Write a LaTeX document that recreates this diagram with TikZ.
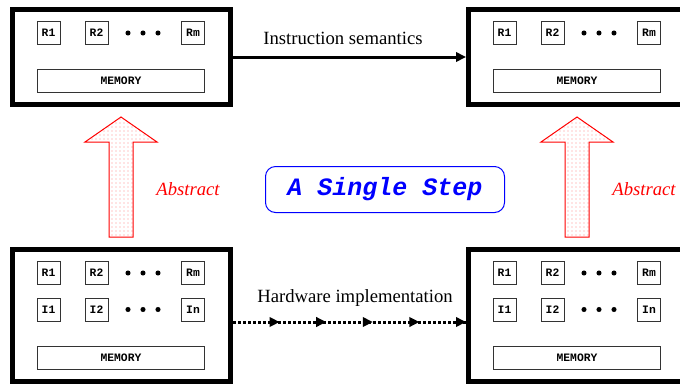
\documentclass[tikz,border=0pt]{standalone}
\usepackage{fontspec}
\setmainfont{Liberation Serif}
\setmonofont{Liberation Mono}
\usetikzlibrary{arrows.meta,patterns,decorations.markings}

\tikzset{every picture/.style={line width=0.75pt}}
\tikzset{
  machine/.style={draw, line width=3.75pt, minimum width=163.5pt, inner sep=0pt},
  reg/.style={draw=black!80, line width=0.75pt, minimum width=17.25pt, minimum height=17.25pt, inner sep=0pt, font=\fontsize{8.5}{9}\ttfamily\bfseries},
  mem/.style={reg, minimum width=125.25pt},
  lbl/.style={inner sep=0.75pt, font=\fontsize{14}{16}\selectfont},
  absarrow/.style={draw=red, line width=0.75pt, pattern=dots, pattern color=red!45},
  hwtip/.style={decoration={markings,
      mark=between positions 0.2 and 0.8 step 0.2 with {\arrow[solid]{Triangle[length=7.5pt,width=7pt]}},
      mark=at position 1 with {\arrow[solid]{Triangle[length=7.5pt,width=7pt]}}},
    postaction={decorate}},
}

\begin{document}
\begin{tikzpicture}[x=0.75pt,y=0.75pt,yscale=-1,xscale=1]
\useasboundingbox (0,0) rectangle (680,383);

% Machine boxes
\node (absL) at (121.5,57) [machine, minimum height=71.25pt] {};
\node (absR) at (577.5,57) [machine, minimum height=71.25pt] {};
\node (impL) at (121.5,315.5) [machine, minimum height=99pt] {};
\node (impR) at (577.5,315.5) [machine, minimum height=99pt] {};

% Registers, top left
\node (absLr1) at (48.5,33) [reg] {R1};
\node (absLr2) at (96.5,33) [reg] {R2};
\node (absLrm) at (193,33) [reg] {Rm};
\node (absLmem) at (121,81) [mem] {MEMORY};
% Registers, top right
\node (absRr1) at (504.5,33) [reg] {R1};
\node (absRr2) at (552.5,33) [reg] {R2};
\node (absRrm) at (649,33) [reg] {Rm};
\node (absRmem) at (577,81) [mem] {MEMORY};
% Registers, bottom left
\node (impLr1) at (48.5,273) [reg] {R1};
\node (impLr2) at (96.5,273) [reg] {R2};
\node (impLrm) at (193,273) [reg] {Rm};
\node (impLi1) at (48.5,309.5) [reg] {I1};
\node (impLi2) at (96.5,309.5) [reg] {I2};
\node (impLin) at (193,309.5) [reg] {In};
\node (impLmem) at (121,357.5) [mem] {MEMORY};
% Registers, bottom right
\node (impRr1) at (504.5,273) [reg] {R1};
\node (impRr2) at (552.5,273) [reg] {R2};
\node (impRrm) at (649,273) [reg] {Rm};
\node (impRi1) at (504.5,309.5) [reg] {I1};
\node (impRi2) at (552.5,309.5) [reg] {I2};
\node (impRin) at (649,309.5) [reg] {In};
\node (impRmem) at (577,357.5) [mem] {MEMORY};

% Dots
\fill (128,33) circle (1.9pt) (143,33) circle (1.9pt) (158,33) circle (1.9pt);
\fill (584,33) circle (1.9pt) (599,33) circle (1.9pt) (614,33) circle (1.9pt);
\fill (128,273) circle (1.9pt) (143,273) circle (1.9pt) (158,273) circle (1.9pt);
\fill (128,309.5) circle (1.9pt) (143,309.5) circle (1.9pt) (158,309.5) circle (1.9pt);
\fill (584,273) circle (1.9pt) (599,273) circle (1.9pt) (614,273) circle (1.9pt);
\fill (584,309.5) circle (1.9pt) (599,309.5) circle (1.9pt) (614,309.5) circle (1.9pt);

%Straight Lines
\draw [line width=2.25pt, -{Triangle[length=7.5pt,width=7pt]}] (absL) -- (absR);
%Dotted Lines
\draw [line width=2.25pt, dash pattern=on 2.25pt off 1.5pt, hwtip] ([yshift=4.875pt]impL.east) -- ([yshift=4.875pt]impR.west);

%Up Arrows
\draw [absarrow] (109,237) -- (109,142) -- (85,142) -- (121,117) -- (157,142) -- (133,142) -- (133,237) -- cycle;
\draw [absarrow] (565,237) -- (565,142) -- (541,142) -- (577,117) -- (613,142) -- (589,142) -- (589,237) -- cycle;

% Text Node
\node (sem) at (343,38) [lbl] {Instruction semantics};
% Text Node
\node (hw) at (355,298) [lbl] {Hardware implementation};
% Text Node
\node (absTxtL) at (188,189) [lbl, text=red] {\itshape Abstract};
% Text Node
\node (absTxtR) at (644,189) [lbl, text=red] {\itshape Abstract};
% Text Node
\node (title) at (385,189.5) [draw=blue, rounded corners=7.5pt, minimum width=179.25pt, minimum height=34.5pt, text=blue, font=\fontsize{18.75}{20}\ttfamily\bfseries\itshape] {A Single Step};

\end{tikzpicture}
\end{document}
